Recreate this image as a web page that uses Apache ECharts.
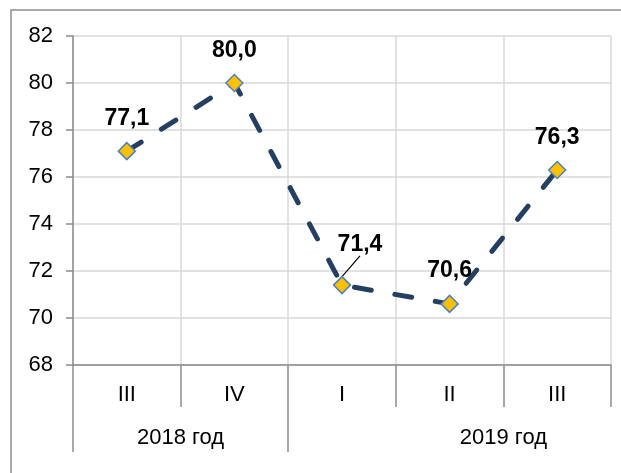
<!DOCTYPE html>
<html>
<head>
<meta charset="utf-8">
<script src="https://cdn.jsdelivr.net/npm/echarts@6/dist/echarts.min.js"></script>
<style>
  html, body { margin: 0; padding: 0; background: #fff; }
  #chart { width: 621px; height: 473px; }
</style>
</head>
<body>
<div id="chart"></div>
<script>
  // quarters and values
  var quarters = ['III', 'IV', 'I', 'II', 'III'];
  var values = [77.1, 80.0, 71.4, 70.6, 76.3];
  var yTicks = [68, 70, 72, 74, 76, 78, 80, 82];
  // year groups: label, position on the quarter scale, and group borders
  var years = ['2018 год', '2019 год'];
  var yearPos = [1, 4];
  var yearBorders = [0, 2];

  var myChart = echarts.init(document.getElementById('chart'));

  var fmt = function (v) { return v.toFixed(1).replace('.', ','); };

  var points = values.map(function (v, i) {
    var item = { value: v };
    if (i === 2) {
      // label pushed aside with a leader line
      item.labelLine = { show: true, lineStyle: { color: '#000', width: 1.2 } };
    }
    return item;
  });

  myChart.setOption({
    animation: false,
    graphic: [{
      type: 'rect',
      shape: { x: 11, y: 10, width: 640, height: 500 },
      style: { fill: 'none', stroke: '#8c8c8c', lineWidth: 1.5 },
      silent: true
    }],
    grid: { left: 73, right: 10, top: 36, bottom: 108 },
    xAxis: [{
      type: 'category',
      data: quarters,
      boundaryGap: true,
      axisLine: { lineStyle: { color: '#8c8c8c', width: 1.5 } },
      axisTick: { show: true, interval: 0, length: 42, lineStyle: { color: '#8c8c8c', width: 1.5 } },
      axisLabel: { color: '#000', fontSize: 22, fontFamily: 'Liberation Sans', margin: 19 },
      splitLine: { show: true, interval: 0, lineStyle: { color: '#d9d9d9', width: 1.5 } }
    }, {
      type: 'value',
      position: 'bottom',
      offset: 42,
      min: 0,
      max: 5,
      axisLine: { show: false },
      axisTick: { show: true, length: 45, customValues: yearBorders, lineStyle: { color: '#8c8c8c', width: 1.5 } },
      axisLabel: {
        customValues: yearPos,
        color: '#000', fontSize: 22, fontFamily: 'Liberation Sans', margin: 20,
        formatter: function (v) { return years[yearPos.indexOf(v)]; }
      },
      splitLine: { show: false }
    }],
    yAxis: {
      type: 'value',
      min: yTicks[0],
      max: yTicks[yTicks.length - 1],
      interval: 2,
      axisLine: { show: true, lineStyle: { color: '#8c8c8c', width: 1.5 } },
      axisTick: { show: true, length: 7, lineStyle: { color: '#8c8c8c', width: 1.5 } },
      axisLabel: { color: '#000', fontSize: 22, fontFamily: 'Liberation Sans', margin: 20 },
      splitLine: { show: true, lineStyle: { color: '#d9d9d9', width: 1.5 } }
    },
    series: [{
      type: 'line',
      data: points,
      symbol: 'diamond',
      symbolSize: 17,
      lineStyle: { color: '#243F60', width: 5, type: [17, 24], cap: 'round' },
      itemStyle: { color: '#FFC000', borderColor: '#4F81BD', borderWidth: 1.5 },
      label: {
        show: true,
        position: 'top',
        distance: 12,
        color: '#000',
        fontSize: 23,
        fontWeight: 'bold',
        fontFamily: 'Liberation Sans',
        formatter: function (p) { return fmt(p.value); }
      },
      labelLayout: function (p) {
        if (p.dataIndex === 2) return { dx: 18, dy: -8 };
      },
      z: 3
    }]
  });
</script>
</body>
</html>
